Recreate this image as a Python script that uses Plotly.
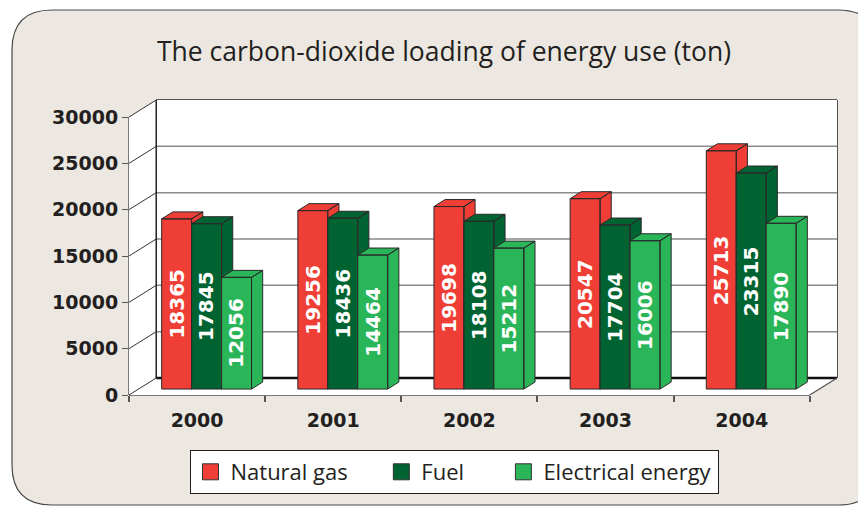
import plotly.graph_objects as go

years = ['2000', '2001', '2002', '2003', '2004']
natural_gas = [18365, 19256, 19698, 20547, 25713]
fuel = [17845, 18436, 18108, 17704, 23315]
electrical = [12056, 14464, 15212, 16006, 17890]
y_ticks = [0, 5000, 10000, 15000, 20000, 25000, 30000]

series = [
    ('Natural gas', natural_gas, '#ef3e36'),
    ('Fuel', fuel, '#006331'),
    ('Electrical energy', electrical, '#2bb559'),
]

# fake 3d: depth of the box in axis units
DX = 0.2
DY = 1836
Y_TOP = y_ticks[-1] + DY
BAR_W = 0.22
FRONT = 0.35   # where the bar front sits inside the depth
THICK = 0.41   # bar depth as part of the box depth

W, H = 858, 506
L, R, T, B = 129, 21, 100, 111


def px(x, y):
    # pixel -> paper coords
    return (x - L) / (W - L - R), (H - B - y) / (H - T - B)


fig = go.Figure()

# bars drawn as front/side/top polygons
for i in range(len(years)):
    for j, (name, vals, color) in enumerate(series):
        v = vals[i]
        x0 = i + FRONT * DX + (j - 1.5) * BAR_W
        x1 = x0 + BAR_W
        b = FRONT * DY
        dx, dy = THICK * DX, THICK * DY
        xs = [x1, x1 + dx, x1 + dx, x1, x1, None,
              x0, x1, x1 + dx, x0 + dx, x0, None,
              x0, x1, x1, x0, x0]
        ys = [b, b + dy, b + v + dy, b + v, b, None,
              b + v, b + v, b + v + dy, b + v + dy, b + v, None,
              b, b, b + v, b + v, b]
        fig.add_trace(go.Scatter(x=xs, y=ys, mode='lines', fill='toself',
                                 fillcolor=color, line=dict(color='#2a2a2a', width=1),
                                 hoverinfo='skip', showlegend=False))
        fig.add_annotation(x=(x0 + x1) / 2, y=b + v / 2, text=str(v), textangle=-90,
                           showarrow=False,
                           font=dict(family='DejaVu Sans', size=20, color='white', weight='bold'))

pad = {'Natural gas': 5, 'Fuel': 6, 'Electrical energy': 0}
for name, vals, color in series:
    fig.add_trace(go.Scatter(x=[None], y=[None], mode='markers', name=name + '\u00a0' * pad[name],
                             marker=dict(symbol='square', size=16, color=color,
                                         line=dict(color='#333', width=1))))

shapes = []
# rounded panel
l, t, r, bt, rad = 12, 10, 878, 505, 40
pts = [(l + rad, t), (r - rad, t), (r, t), (r, t + rad), (r, bt - rad), (r, bt), (r - rad, bt),
       (l + rad, bt), (l, bt), (l, bt - rad), (l, t + rad), (l, t), (l + rad, t)]
p = [px(*q) for q in pts]
path = 'M{},{} L{},{} Q{},{} {},{} L{},{} Q{},{} {},{} L{},{} Q{},{} {},{} L{},{} Q{},{} {},{} Z'.format(
    *[c for q in p for c in q])
shapes.append(dict(type='path', xref='paper', yref='paper', path=path, layer='below',
                   fillcolor='#ece8e1', line=dict(color='#4a4a4a', width=1.2)))

xl, xr = -0.5, len(years) - 0.5
# floor, left wall, back wall
shapes.append(dict(type='path', xref='x', yref='y', layer='below', fillcolor='white', line_width=0,
                   path=f'M{xl},0 L{xr},0 L{xr + DX},{DY} L{xl + DX},{DY} Z'))
shapes.append(dict(type='path', xref='x', yref='y', layer='below', fillcolor='white', line_width=0,
                   path=f'M{xl},0 L{xl + DX},{DY} L{xl + DX},{Y_TOP} L{xl},{y_ticks[-1]} Z'))
shapes.append(dict(type='rect', xref='x', yref='y', layer='below', fillcolor='white', line_width=0,
                   x0=xl + DX, x1=xr + DX, y0=DY, y1=Y_TOP))
for v in y_ticks[1:-1]:
    shapes.append(dict(type='line', xref='x', yref='y', layer='below', x0=xl + DX, x1=xr + DX,
                       y0=v + DY, y1=v + DY, line=dict(color='#8a8a8a', width=1.5)))
for v in y_ticks:
    shapes.append(dict(type='line', xref='x', yref='y', layer='below', x0=xl, x1=xl + DX,
                       y0=v, y1=v + DY, line=dict(color='#333', width=1)))
# back wall border and floor back edge
shapes.append(dict(type='line', xref='x', yref='paper', layer='below', x0=xl + DX, x1=xr + DX,
                   y0=1, y1=1, line=dict(color='#222', width=1.5)))
shapes.append(dict(type='line', xref='x', yref='y', layer='below', x0=xl + DX, x1=xl + DX,
                   y0=DY, y1=Y_TOP, line=dict(color='#222', width=1.5)))
shapes.append(dict(type='line', xref='paper', yref='y', layer='below', x0=1, x1=1,
                   y0=DY, y1=Y_TOP, line=dict(color='#222', width=1.5)))
shapes.append(dict(type='line', xref='x', yref='y', layer='below', x0=xl + DX, x1=xr + DX,
                   y0=DY, y1=DY, line=dict(color='#111', width=2.5)))
# front axes
shapes.append(dict(type='line', xref='paper', yref='y', layer='below', x0=0, x1=0,
                   y0=0, y1=y_ticks[-1], line=dict(color='#555', width=1.5)))
shapes.append(dict(type='line', xref='x', yref='paper', layer='below', x0=xl, x1=xr,
                   y0=0, y1=0, line=dict(color='#555', width=1.5)))
shapes.append(dict(type='line', xref='x', yref='y', layer='below', x0=xr, x1=xr + DX,
                   y0=0, y1=DY, line=dict(color='#555', width=1.2)))

fig.update_layout(
    width=W, height=H,
    margin=dict(l=L, r=R, t=T, b=B),
    paper_bgcolor='white', plot_bgcolor='rgba(0,0,0,0)',
    shapes=shapes,
    title=dict(text='The carbon-dioxide loading of energy use (ton)', x=444 / W, xanchor='center',
               y=1 - 52 / H, yanchor='middle',
               font=dict(family='Open Sans', size=26.5, color='#231f20')),
    xaxis=dict(range=[xl, xr + DX], tickvals=list(range(len(years))), ticktext=years,
               ticks='', showgrid=False, zeroline=False, showline=False, ticklabelstandoff=12,
               tickfont=dict(family='DejaVu Sans', size=19, color='#231f20', weight='bold'),
               minor=dict(tickvals=[k - 0.5 for k in range(len(years) + 1)], ticks='outside',
                          ticklen=6, tickcolor='#555', tickwidth=1.5)),
    yaxis=dict(range=[0, Y_TOP], tickvals=y_ticks, ticktext=[str(v) for v in y_ticks],
               ticks='outside', ticklen=6,
               tickcolor='#555', tickwidth=1.2, showgrid=False, zeroline=False, showline=False,
               tickfont=dict(family='DejaVu Sans', size=19, color='#231f20', weight='bold')),
    legend=dict(orientation='h', x=px(454, 0)[0], xanchor='center', y=px(0, 450)[1], yanchor='top',
                bgcolor='white', bordercolor='#231f20', borderwidth=1,
                font=dict(family='Open Sans', size=22, color='#231f20')),
)

fig.write_html('out.html', config={'displayModeBar': False},
               post_script="document.body.style.margin='0';")
